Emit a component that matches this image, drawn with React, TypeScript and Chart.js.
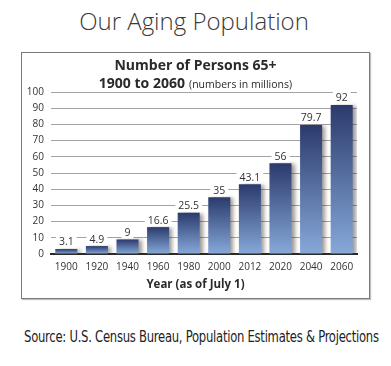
import React, { useEffect, useRef } from "react";
import { Chart, registerables } from "chart.js";

Chart.register(...registerables);

const years = ["1900", "1920", "1940", "1960", "1980", "2000", "2012", "2020", "2040", "2060"];
const persons65 = [3.1, 4.9, 9, 16.6, 25.5, 35, 43.1, 56, 79.7, 92];
const yMin = 0;
const yMax = 100;
const yStep = 10;

const pageTitle = "Our Aging Population";
const chartTitle1 = "Number of Persons 65+";
const chartTitle2Bold = "1900 to 2060";
const chartTitle2Rest = "(numbers in millions)";
const xTitle = "Year (as of July 1)";
const sourceText = "Source: U.S. Census Bureau, Population Estimates & Projections";

const FONT = "'Open Sans', 'Noto Sans', sans-serif";

const shadowPlugin = {
  id: "barShadow",
  beforeDatasetDraw(chart: any) {
    const ctx = chart.ctx;
    ctx.save();
    ctx.shadowColor = "rgba(40,30,20,0.45)";
    ctx.shadowBlur = 4;
    ctx.shadowOffsetX = 3;
    ctx.shadowOffsetY = 1;
  },
  afterDatasetDraw(chart: any) {
    chart.ctx.restore();
  },
};

const valueLabelPlugin = {
  id: "valueLabels",
  afterDatasetsDraw(chart: any) {
    const ctx = chart.ctx;
    const meta = chart.getDatasetMeta(0);
    ctx.save();
    ctx.font = `10.5px ${FONT}`;
    ctx.textAlign = "center";
    ctx.textBaseline = "middle";
    meta.data.forEach((bar: any, i: number) => {
      const txt = String(chart.data.datasets[0].data[i]);
      const w = ctx.measureText(txt).width + 6;
      const cy = bar.y - 7;
      ctx.fillStyle = "#ffffff";
      ctx.fillRect(bar.x - w / 2, cy - 6, w, 12);
      ctx.fillStyle = "#333333";
      ctx.fillText(txt, bar.x, cy + 0.5);
    });
    ctx.restore();
  },
};

function ChartBox() {
  const ref = useRef<HTMLCanvasElement | null>(null);
  useEffect(() => {
    if (!ref.current) return;
    const chart = new Chart(ref.current, {
      type: "bar",
      data: {
        labels: years,
        datasets: [
          {
            data: persons65,
            barPercentage: 0.72,
            categoryPercentage: 1,
            backgroundColor: (c: any) => {
              const ch = c.chart;
              const area = ch.chartArea;
              if (!area) return "#3d5590";
              const top = ch.scales.y.getPixelForValue(c.raw);
              const g = ch.ctx.createLinearGradient(0, top, 0, area.bottom);
              g.addColorStop(0, "#2b3a6c");
              g.addColorStop(1, "#86a9da");
              return g;
            },
            borderWidth: 0,
          },
        ],
      },
      options: {
        animation: false,
        responsive: false,
        maintainAspectRatio: false,
        layout: { padding: { top: 39, right: 14, left: 0, bottom: 0 } },
        plugins: {
          legend: { display: false },
          tooltip: { enabled: false },
          title: { display: false },
        },
        scales: {
          x: {
            offset: true,
            grid: { display: false, drawTicks: false },
            border: { display: true, color: "#2a2a2a", width: 2 },
            ticks: { color: "#333", font: { family: FONT, size: 10 }, padding: 7, maxRotation: 0 },
            afterFit: (s: any) => {
              s.height = 46;
            },
          },
          y: {
            min: yMin,
            max: yMax,
            ticks: { stepSize: yStep, color: "#333", font: { family: FONT, size: 10 }, padding: 7 },
            grid: { color: "#a3a3a3", lineWidth: 1, drawTicks: false },
            border: { display: false },
            afterFit: (s: any) => {
              s.width = 29;
            },
          },
        },
      },
      plugins: [shadowPlugin, valueLabelPlugin],
    });
    return () => chart.destroy();
  }, []);
  return <canvas ref={ref} width={349} height={247} style={{ position: "absolute", left: 0, top: 0 }} />;
}

export default function App() {
  return (
    <div
      style={{
        position: "absolute",
        left: 0,
        top: 0,
        width: 391,
        height: 366,
        background: "#fff",
        fontFamily: FONT,
        color: "#333",
        overflow: "hidden",
      }}
    >
      <div
        style={{
          position: "absolute",
          left: 0,
          top: 4,
          width: 388,
          textAlign: "center",
          fontSize: 24,
          lineHeight: "34px",
          color: "#3a3a3a",
          fontWeight: 300,
        }}
      >
        {pageTitle}
      </div>
      <div
        style={{
          position: "absolute",
          left: 21,
          top: 52,
          width: 347,
          height: 245,
          border: "1px solid #7a7a7a",
          boxShadow: "1px 1px 1px rgba(0,0,0,0.25)",
        }}
      >
        <ChartBox />
        <div
          style={{
            position: "absolute",
            left: 0,
            top: 3,
            width: 347,
            textAlign: "center",
            fontSize: 14,
            fontWeight: 700,
            lineHeight: "18px",
            color: "#2a2a2a",
          }}
        >
          {chartTitle1}
        </div>
        <div
          style={{
            position: "absolute",
            left: 0,
            top: 20,
            width: 347,
            textAlign: "center",
            lineHeight: "18px",
            color: "#2a2a2a",
          }}
        >
          <span style={{ fontSize: 14, fontWeight: 700 }}>{chartTitle2Bold}</span>{" "}
          <span style={{ fontSize: 10.5 }}>{chartTitle2Rest}</span>
        </div>
        <div
          style={{
            position: "absolute",
            left: 0,
            top: 223,
            width: 347,
            textAlign: "center",
            fontSize: 11.5,
            fontWeight: 700,
            lineHeight: "16px",
            color: "#2a2a2a",
          }}
        >
          {xTitle}
        </div>
      </div>
      <div
        style={{
          position: "absolute",
          left: 0,
          top: 326,
          width: 401,
          textAlign: "center",
          whiteSpace: "nowrap",
          fontFamily: "'DejaVu Sans Condensed', 'DejaVu Sans', sans-serif",
          fontStretch: "condensed",
          fontSize: 15,
          letterSpacing: "-0.3px",
          lineHeight: "22px",
          color: "#222",
          transform: "translateX(-4px) scaleX(0.86)",
          transformOrigin: "50% 50%",
        }}
      >
        {sourceText}
      </div>
    </div>
  );
}
